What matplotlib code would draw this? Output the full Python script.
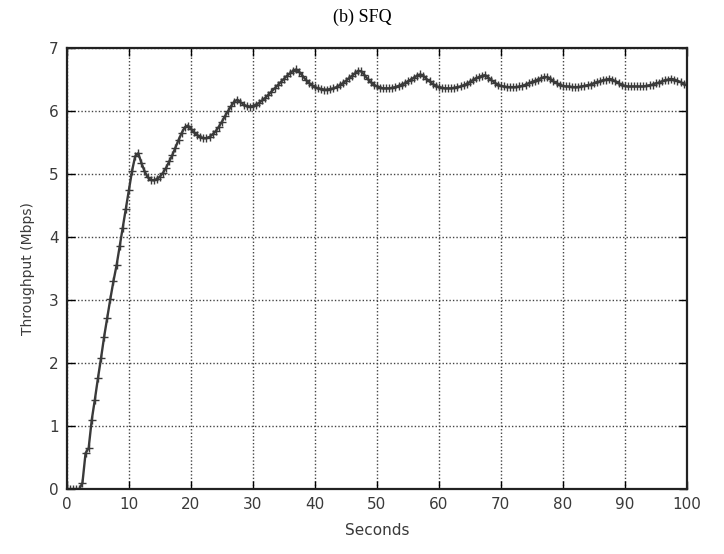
import numpy as np
import matplotlib
matplotlib.use("Agg")
import matplotlib.pyplot as plt

# throughput samples every 0.5 s, 0 .. 100 s
step = 0.5
throughput = [
    0.00, 0.00, 0.00, 0.00, 0.00, 0.10, 0.57, 0.65, 1.10, 1.42,   # 0 - 4.5
    1.76, 2.08, 2.42, 2.72, 3.02, 3.30, 3.55, 3.85, 4.15, 4.45,   # 5 - 9.5
    4.75, 5.05, 5.28, 5.33, 5.18, 5.05, 4.95, 4.91, 4.90, 4.92,   # 10 - 14.5
    4.96, 5.02, 5.10, 5.20, 5.30, 5.42, 5.54, 5.65, 5.74, 5.77,   # 15 - 19.5
    5.72, 5.66, 5.62, 5.59, 5.57, 5.57, 5.59, 5.63, 5.68, 5.75,   # 20 - 24.5
    5.83, 5.92, 6.00, 6.08, 6.15, 6.18, 6.14, 6.10, 6.08, 6.07,   # 25 - 29.5
    6.08, 6.10, 6.13, 6.17, 6.21, 6.26, 6.31, 6.36, 6.41, 6.46,   # 30 - 34.5
    6.51, 6.56, 6.60, 6.64, 6.66, 6.62, 6.56, 6.50, 6.45, 6.41,   # 35 - 39.5
    6.38, 6.36, 6.35, 6.34, 6.34, 6.35, 6.36, 6.38, 6.41, 6.44,   # 40 - 44.5
    6.48, 6.52, 6.56, 6.60, 6.64, 6.63, 6.57, 6.51, 6.46, 6.42,   # 45 - 49.5
    6.39, 6.37, 6.36, 6.36, 6.36, 6.37, 6.38, 6.40, 6.42, 6.44,   # 50 - 54.5
    6.47, 6.50, 6.53, 6.56, 6.58, 6.56, 6.51, 6.47, 6.43, 6.40,   # 55 - 59.5
    6.38, 6.37, 6.36, 6.36, 6.36, 6.37, 6.38, 6.39, 6.41, 6.43,   # 60 - 64.5
    6.46, 6.49, 6.52, 6.54, 6.56, 6.57, 6.53, 6.49, 6.45, 6.42,   # 65 - 69.5
    6.40, 6.39, 6.38, 6.38, 6.38, 6.38, 6.39, 6.40, 6.42, 6.44,   # 70 - 74.5
    6.46, 6.48, 6.50, 6.52, 6.54, 6.54, 6.51, 6.47, 6.44, 6.42,   # 75 - 79.5
    6.40, 6.39, 6.39, 6.38, 6.38, 6.38, 6.39, 6.40, 6.41, 6.42,   # 80 - 84.5
    6.44, 6.46, 6.47, 6.49, 6.50, 6.51, 6.50, 6.47, 6.44, 6.42,   # 85 - 89.5
    6.40, 6.39, 6.39, 6.39, 6.39, 6.39, 6.39, 6.40, 6.41, 6.42,   # 90 - 94.5
    6.44, 6.45, 6.47, 6.49, 6.50, 6.51, 6.50, 6.48, 6.46, 6.43,   # 95 - 99.5
    6.41,                                                         # 100
]
seconds = np.arange(len(throughput)) * step

x_ticks = list(range(0, 101, 10))
y_ticks = list(range(0, 8))

fig = plt.figure(figsize=(7.24, 5.54), dpi=100)
ax = fig.add_axes([0.0925, 0.1173, 0.856, 0.796])

ax.plot(seconds, throughput, color='#3a3a3a', linewidth=1.7,
        marker='+', markersize=6, markeredgewidth=1.0)

ax.set_xlim(0, 100)
ax.set_ylim(0, 7)
ax.set_xticks(x_ticks)
ax.set_yticks(y_ticks)
ax.grid(True, color='#444444', linestyle=(0, (1, 1.5)), linewidth=1.0)
ax.tick_params(direction='in', length=6, width=1.0, top=True, right=True,
               labelsize=11, labelcolor='#3a3a3a', pad=6)
for s in ax.spines.values():
    s.set_linewidth(1.6)
    s.set_color('#222222')

ax.set_xlabel('Seconds', fontsize=11, color='#3a3a3a', labelpad=8)
ax.set_ylabel('Throughput (Mbps)', fontsize=10, color='#3a3a3a', labelpad=10)
fig.text(0.5, 0.968, '(b) SFQ', ha='center', va='center',
         fontsize=13, family='Liberation Serif')

fig.savefig('out.png', dpi=100)
